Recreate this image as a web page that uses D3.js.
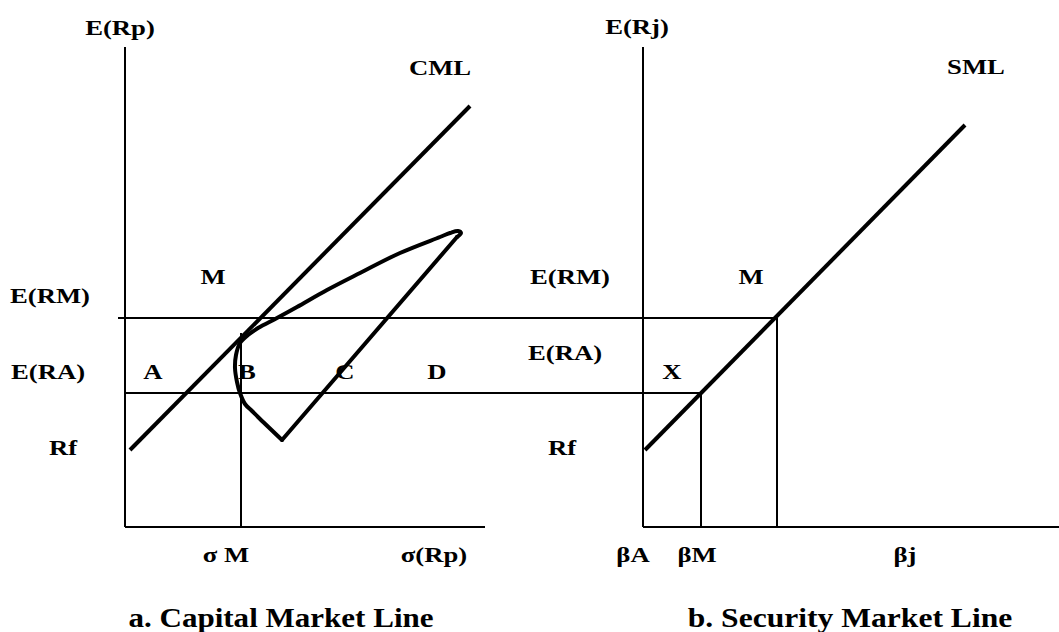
<!DOCTYPE html>
<html>
<head>
<meta charset="utf-8">
<script src="https://cdn.jsdelivr.net/npm/d3@7"></script>
<style>
  body { margin: 0; background: #fff; }
  svg text { font-family: "Liberation Serif", "Times New Roman", serif; font-weight: bold; fill: #000; }
</style>
</head>
<body>
<svg id="chart" width="1059" height="632"></svg>
<script>
// return levels shared by both panels
const rf = 7.7, e_rm = 20.9, e_ra = 13.4;

// left panel: capital market line (sigma, E(Rp))
const cml_points = [[0.5, 7.7], [34.5, 42.1]];
const sigma_m = 11.6;
const sigma_m_top = 19.4;
// efficient set: straight lower edge and curved upper edge
const frontier_lower = [[15.7, 8.7], [33.2, 29.0]];
const frontier_upper = [
    [33.2, 29.0], [33.6, 29.4], [33.3, 29.6], [32.5, 29.4], [31.5, 29.0],
    [27.5, 27.4], [23.5, 25.4], [20.2, 23.7], [17.2, 22.0], [15.2, 20.9],
    [13.3, 19.9], [12.3, 19.2], [11.5, 18.4], [11.1, 17.2], [11.0, 15.9],
    [11.2, 14.5], [11.5, 13.4], [12.0, 12.3], [12.7, 11.6], [13.3, 11.0],
    [15.7, 8.7]
];

// right panel: security market line (beta, E(Rj))
const sml_points = [[0.2, 7.7], [32.2, 40.2]];
const beta_a = 5.8, beta_m = 13.4;

// labels, in each panel's own units
const left_labels = [
    ["E(Rp)", -0.5, 49.2], ["CML", 31.5, 45.2], ["M", 8.8, 24.3],
    ["E(RM)", -7.5, 22.4], ["E(RA)", -7.7, 14.8],
    ["A", 2.8, 14.8], ["B", 12.2, 14.8], ["C", 22.0, 14.8], ["D", 31.2, 14.8],
    ["Rf", -6.2, 7.2], ["σ M", 10.1, -3.5], ["σ(Rp)", 30.9, -3.5]
];
const right_labels = [
    ["E(Rj)", -0.6, 49.3], ["SML", 33.3, 45.3], ["E(RM)", -7.3, 24.3],
    ["M", 10.8, 24.3], ["E(RA)", -7.8, 16.7], ["X", 2.9, 14.8],
    ["Rf", -8.1, 7.2], ["βA", -1.0, -3.5], ["βM", 5.4, -3.5], ["βj", 26.2, -3.5]
];
const titles = ["a. Capital Market Line", "b. Security Market Line"];

const svg = d3.select("#chart");

const y = d3.scaleLinear().domain([0, 48]).range([527, 47]);
const x_left = d3.scaleLinear().domain([0, 36]).range([125, 485]);
const x_right = d3.scaleLinear().domain([0, 41.6]).range([643, 1059]);

function seg(x1, y1, x2, y2, w) {
    svg.append("line")
        .attr("x1", x1).attr("y1", y1)
        .attr("x2", x2).attr("y2", y2)
        .attr("stroke", "#000")
        .attr("stroke-width", w);
}

// axes
seg(x_left(0), y(0), x_left(0), y(48), 2);
seg(x_left(0), y(0), x_left(36), y(0), 2);
seg(x_right(0), y(0), x_right(0), y(48), 2);
seg(x_right(0), y(0), x_right(41.6), y(0), 2);

// guide lines across both panels
seg(x_left(-0.7), y(e_rm), x_right(beta_m), y(e_rm), 2);
seg(x_left(0), y(e_ra), x_right(beta_a), y(e_ra), 2);
seg(x_left(sigma_m), y(0), x_left(sigma_m), y(sigma_m_top), 2);
seg(x_right(beta_a), y(0), x_right(beta_a), y(e_ra), 2);
seg(x_right(beta_m), y(0), x_right(beta_m), y(e_rm), 2);

const line_left = d3.line().x(d => x_left(d[0])).y(d => y(d[1]));
const curve_left = d3.line().x(d => x_left(d[0])).y(d => y(d[1])).curve(d3.curveCatmullRom);
const line_right = d3.line().x(d => x_right(d[0])).y(d => y(d[1]));

svg.append("path").attr("d", line_left(cml_points))
    .attr("fill", "none").attr("stroke", "#000").attr("stroke-width", 4);
svg.append("path").attr("d", line_left(frontier_lower))
    .attr("fill", "none").attr("stroke", "#000").attr("stroke-width", 4)
    .attr("stroke-linecap", "round");
svg.append("path").attr("d", curve_left(frontier_upper))
    .attr("fill", "none").attr("stroke", "#000").attr("stroke-width", 4)
    .attr("stroke-linecap", "round");
svg.append("path").attr("d", line_right(sml_points))
    .attr("fill", "none").attr("stroke", "#000").attr("stroke-width", 4);

// the original lettering is wider than the font, so stretch it a bit
function label(sel, xs) {
    sel.enter().append("text")
        .attr("transform", d => "translate(" + xs(d[1]) + "," + y(d[2]) + ") scale(1.27,1)")
        .attr("text-anchor", "middle")
        .style("font-size", "21px")
        .text(d => d[0]);
}
label(svg.selectAll("text.left").data(left_labels), x_left);
label(svg.selectAll("text.right").data(right_labels), x_right);

svg.append("text")
    .attr("transform", "translate(" + x_left(15.6) + "," + y(-10.0) + ") scale(1.15,1)")
    .attr("text-anchor", "middle")
    .style("font-size", "27px")
    .text(titles[0]);
svg.append("text")
    .attr("transform", "translate(" + x_right(20.7) + "," + y(-10.0) + ") scale(1.17,1)")
    .attr("text-anchor", "middle")
    .style("font-size", "27px")
    .text(titles[1]);
</script>
</body>
</html>
